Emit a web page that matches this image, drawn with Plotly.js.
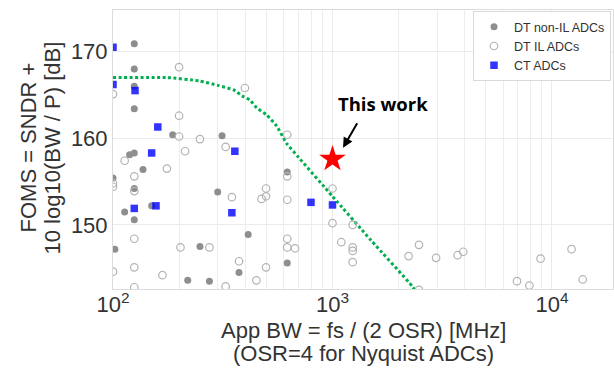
<!DOCTYPE html>
<html>
<head>
<meta charset="utf-8">
<script src="https://cdn.plot.ly/plotly-3.0.1.min.js"></script>
<style>html,body{margin:0;padding:0;background:#fff;}#chart{width:614px;height:368px;}</style>
</head>
<body>
<div id="chart"></div>
<script>
// ---- data ----
const dtNonIL_bw   = [125,125,125,125,187,314,119,125,137,100,125,300,622,150,113,125,413,102,249,622,375,219,275];
const dtNonIL_foms = [170.9,168.0,166.0,163.4,160.4,160.3,158.1,158.3,156.4,155.4,154.2,153.8,156.1,152.2,151.5,150.6,148.9,147.2,147.5,145.6,144.5,143.6,143.5];

const dtIL_bw   = [200,100,399,200,200,249,326,213,622,113,176,125,100,100,125,348,498,498,475,622,622,125,203,275,622,622,675,375,498,125,100,168,450,326,125,1000,1000,1236,1097,1236,1236,1236,2477,2222,2965,3715,3943,2477,12280,8870,6930,7890,13800];
const dtIL_foms = [168.2,165.1,165.8,162.6,160.2,159.9,159.0,158.5,160.4,157.4,156.5,155.6,154.8,154.4,153.9,153.2,154.2,153.3,153.0,155.6,152.9,148.4,147.4,147.4,148.4,147.4,147.3,145.8,145.1,145.1,144.6,144.2,143.6,142.9,142.8,154.2,150.2,150.0,148.0,147.4,147.0,145.7,147.7,146.4,146.2,146.5,146.9,142.5,147.2,146.1,143.5,143.0,143.7];

const ct_bw   = [100,100,126,160,359,150,157,125,348,798,1000];
const ct_foms = [170.5,166.2,165.5,161.3,158.5,158.3,152.2,151.9,151.4,152.6,152.3];

const envelope_bw   = [100,176,249,300,353,393,421,452,501,557,618,700,1000,1500,2310,2600];
const envelope_foms = [167.0,167.0,166.6,166.1,165.6,164.8,164.4,163.5,162.7,161.4,159.4,157.8,153.3,148.2,142.9,140.9];

const thisWork_bw = [1000];
const thisWork_foms = [157.6];

const legendNames = ['DT non-IL ADCs','DT IL ADCs','CT ADCs'];
const xTickVals = [100,1000,10000];
const xTickText = ['10<sup>2</sup>','10<sup>3</sup>','10<sup>4</sup>'];
const xMinorVals = [200,300,400,500,600,700,800,900,2000,3000,4000,5000,6000,7000,8000,9000];
const yTickVals = [150,160,170];
const xTitleLines = ['App BW = fs / (2 OSR) [MHz]','(OSR=4 for Nyquist ADCs)'];
const yTitleLines = ['FOMS = SNDR +','10 log10(BW / P) [dB]'];

const FONT = 'Liberation Sans, Arial, sans-serif';
const titleFont = {family:FONT, size:22, color:'#333'};

const traces = [
  {x: envelope_bw, y: envelope_foms, type:'scatter', mode:'lines', showlegend:false,
   line:{color:'#00b050', width:3, dash:'3px,2.5px', shape:'spline', smoothing:0.5}, hoverinfo:'skip'},
  {x: dtNonIL_bw, y: dtNonIL_foms, type:'scatter', mode:'markers', name: legendNames[0],
   marker:{symbol:'circle', size:7, color:'#8e8e8e'}},
  {x: dtIL_bw, y: dtIL_foms, type:'scatter', mode:'markers', name: legendNames[1],
   marker:{symbol:'circle-open', size:7.5, color:'#b3b3b3', line:{width:1.2, color:'#b3b3b3'}}},
  {x: ct_bw, y: ct_foms, type:'scatter', mode:'markers', name: legendNames[2],
   marker:{symbol:'square', size:7.5, color:'rgba(0,0,255,0.8)'}},
  {x: thisWork_bw, y: thisWork_foms, type:'scatter', mode:'markers', showlegend:false,
   marker:{symbol:'star', size:20, color:'#ff0000'}}
];

const layout = {
  width:614, height:368,
  margin:{l:113, r:1, t:10, b:79},
  paper_bgcolor:'#fff', plot_bgcolor:'#fff',
  font:{family:FONT, color:'#333'},
  xaxis:{
    type:'log', range:[2, 4.278],
    tickmode:'array', tickvals:xTickVals, ticktext:xTickText,
    tickfont:{size:22, color:'#333'}, ticklabelstandoff:-4,
    showgrid:true, gridcolor:'#ebebeb', gridwidth:1,
    minor:{tickmode:'array', tickvals:xMinorVals, showgrid:true, gridcolor:'#ededed', ticklen:0},
    showline:true, linecolor:'#dcdcdc', mirror:true, zeroline:false, ticks:''
  },
  yaxis:{
    range:[142.6, 174.8],
    tickmode:'array', tickvals:yTickVals,
    tickfont:{size:22, color:'#333'},
    showgrid:true, gridcolor:'#ebebeb', gridwidth:1,
    showline:true, linecolor:'#dcdcdc', mirror:true, zeroline:false, ticks:''
  },
  legend:{
    x:0.996, xanchor:'right', y:0.996, yanchor:'top',
    bgcolor:'#fff', bordercolor:'#d9d9d9', borderwidth:1,
    font:{size:12.5, color:'#333', family:FONT}
  },
  annotations:[
    {xref:'paper', yref:'paper', x:0.5, y:0, yanchor:'middle', yshift:-41.5, text:xTitleLines[0], showarrow:false, font:titleFont},
    {xref:'paper', yref:'paper', x:0.5, y:0, yanchor:'middle', yshift:-64.5, text:xTitleLines[1], showarrow:false, font:titleFont},
    {xref:'paper', yref:'paper', x:0, y:0.5, xanchor:'center', yanchor:'middle', xshift:-85.5, yshift:1.5, textangle:-90, text:yTitleLines[0], showarrow:false, font:titleFont},
    {xref:'paper', yref:'paper', x:0, y:0.5, xanchor:'center', yanchor:'middle', xshift:-61.5, yshift:1.5, textangle:-90, text:yTitleLines[1], showarrow:false, font:titleFont},
    {xref:'x', yref:'y', x:Math.log10(1706), y:164.0, text:'<b>This work</b>', showarrow:false,
     font:{family:'Open Sans, sans-serif', size:18.5, color:'#000'}},
    {xref:'x', yref:'y', x:Math.log10(1117), y:158.9, text:'', showarrow:true,
     ax:15, ay:-26, arrowhead:2, arrowsize:1, arrowwidth:2, arrowcolor:'#000'}
  ]
};

Plotly.newPlot('chart', traces, layout, {displayModeBar:false, staticPlot:true});
</script>
</body>
</html>
